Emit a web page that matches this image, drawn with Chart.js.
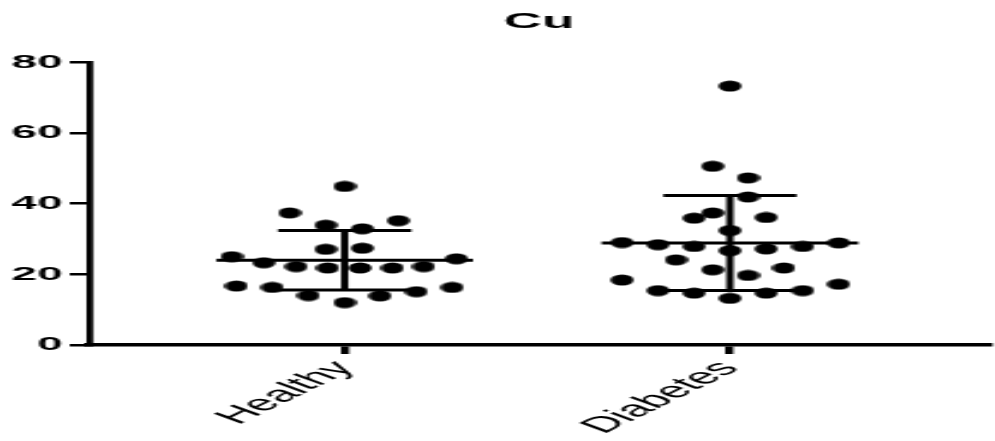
<!DOCTYPE html>
<html>
<head>
<meta charset="utf-8">
<script src="https://cdn.jsdelivr.net/npm/chart.js@4.4.1/dist/chart.umd.min.js"></script>
<style>
  html, body { margin: 0; padding: 0; background: #fff; overflow: hidden; }
  /* the reference is a horizontally stretched image, so the canvas is drawn narrow and stretched */
  #cu { display: block; width: 1005.6px !important; height: 441px !important; }
</style>
</head>
<body>
<canvas id="cu" width="419" height="441" style="width:1005.6px;height:441px"></canvas>
<script>
const groups = ["Healthy", "Diabetes"];

const healthyValues = [44.9, 37.4, 33.9, 32.9, 35.2, 27.1, 27.4, 25.0, 23.3, 22.2, 21.8,
    21.8, 21.8, 22.2, 24.4, 16.7, 16.3, 14.0, 12.0, 13.9, 15.1, 16.3];
const healthyOffsets = [0, -0.143, -0.049, 0.046, 0.139, -0.049, 0.046, -0.293, -0.210, -0.126, -0.044,
    0.040, 0.124, 0.205, 0.290, -0.281, -0.188, -0.094, 0, 0.092, 0.186, 0.279];

const diabetesValues = [73.3, 50.6, 47.3, 41.9, 35.9, 37.4, 36.1, 32.4, 29.0, 28.4, 27.9, 26.7, 27.2,
    27.9, 28.9, 24.1, 21.3, 19.7, 21.8, 18.4, 17.2, 15.4, 14.7, 13.2, 14.7, 15.4];
const diabetesOffsets = [0, -0.045, 0.047, 0.047, -0.093, -0.045, 0.094, 0, -0.280, -0.187, -0.093, 0, 0.094,
    0.189, 0.282, -0.140, -0.045, 0.047, 0.140, -0.280, 0.282, -0.187, -0.093, 0, 0.094, 0.189];

const means = [24.0, 28.85];
const sds = [8.4, 13.45];

const yTicks = [0, 20, 40, 60, 80];

// dot drawn as a small ellipse so it looks right after the stretch
const dot = document.createElement("canvas");
dot.width = 10;
dot.height = 12;
const dctx = dot.getContext("2d");
dctx.fillStyle = "#000";
dctx.beginPath();
dctx.ellipse(5, 6, 4.8, 5.6, 0, 0, Math.PI * 2);
dctx.fill();

const values = [healthyValues, diabetesValues];
const offsets = [healthyOffsets, diabetesOffsets];

const datasets = [];
groups.forEach((g, i) => {
    const x = i + 1;
    datasets.push({
        type: "scatter",
        label: g,
        data: values[i].map((v, j) => ({ x: x + offsets[i][j], y: v })),
        pointStyle: dot,
        pointRadius: 6,
        backgroundColor: "#000",
        borderColor: "#000",
    });
    const line = (pts) => ({
        type: "line",
        data: pts,
        borderColor: "#000",
        borderWidth: 3,
        pointRadius: 0,
        showLine: true,
        fill: false,
    });
    datasets.push(line([{ x: x - 0.333, y: means[i] }, { x: x + 0.333, y: means[i] }]));
    datasets.push(line([{ x: x - 0.173, y: means[i] + sds[i] }, { x: x + 0.173, y: means[i] + sds[i] }]));
    datasets.push(line([{ x: x - 0.173, y: means[i] - sds[i] }, { x: x + 0.173, y: means[i] - sds[i] }]));
    datasets.push(line([{ x: x, y: means[i] - sds[i] }, { x: x, y: means[i] + sds[i] }]));
});

new Chart(document.getElementById("cu").getContext("2d"), {
    type: "scatter",
    data: { datasets },
    options: {
        responsive: false,
        animation: false,
        devicePixelRatio: 1,
        layout: { padding: { left: 0, right: 1, top: 0, bottom: 0 } },
        plugins: {
            legend: { display: false },
            tooltip: { enabled: false },
            title: {
                display: true,
                text: "Cu",
                fullSize: false,
                color: "#000",
                font: { family: "Liberation Sans", size: 22, weight: "bold" },
                padding: { top: 9, bottom: 27 },
            },
        },
        scales: {
            x: {
                type: "linear",
                min: 0.336,
                max: 2.673,
                afterBuildTicks: (s) => { s.ticks = groups.map((g, i) => ({ value: i + 1 })); },
                afterFit: (s) => { s.height = 96; s.paddingLeft = 0; s.paddingRight = 0; },
                ticks: {
                    autoSkip: false,
                    minRotation: 49,
                    maxRotation: 49,
                    padding: 2,
                    color: "#000",
                    font: { family: "Liberation Sans", size: 22 },
                    callback: (v) => groups[v - 1],
                },
                grid: { drawOnChartArea: false, color: "#000", lineWidth: 3.4, tickLength: 9 },
                border: { color: "#000", width: 3.5 },
            },
            y: {
                min: 0,
                max: 80,
                afterBuildTicks: (s) => { s.ticks = yTicks.map((v) => ({ value: v })); },
                afterFit: (s) => { s.width = 37; },
                ticks: {
                    padding: 3,
                    color: "#000",
                    font: { family: "Liberation Sans", size: 19, weight: "bold" },
                },
                grid: { drawOnChartArea: false, color: "#000", lineWidth: 2.5, tickLength: 8 },
                border: { color: "#000", width: 2.8 },
            },
        },
    },
});
</script>
</body>
</html>
